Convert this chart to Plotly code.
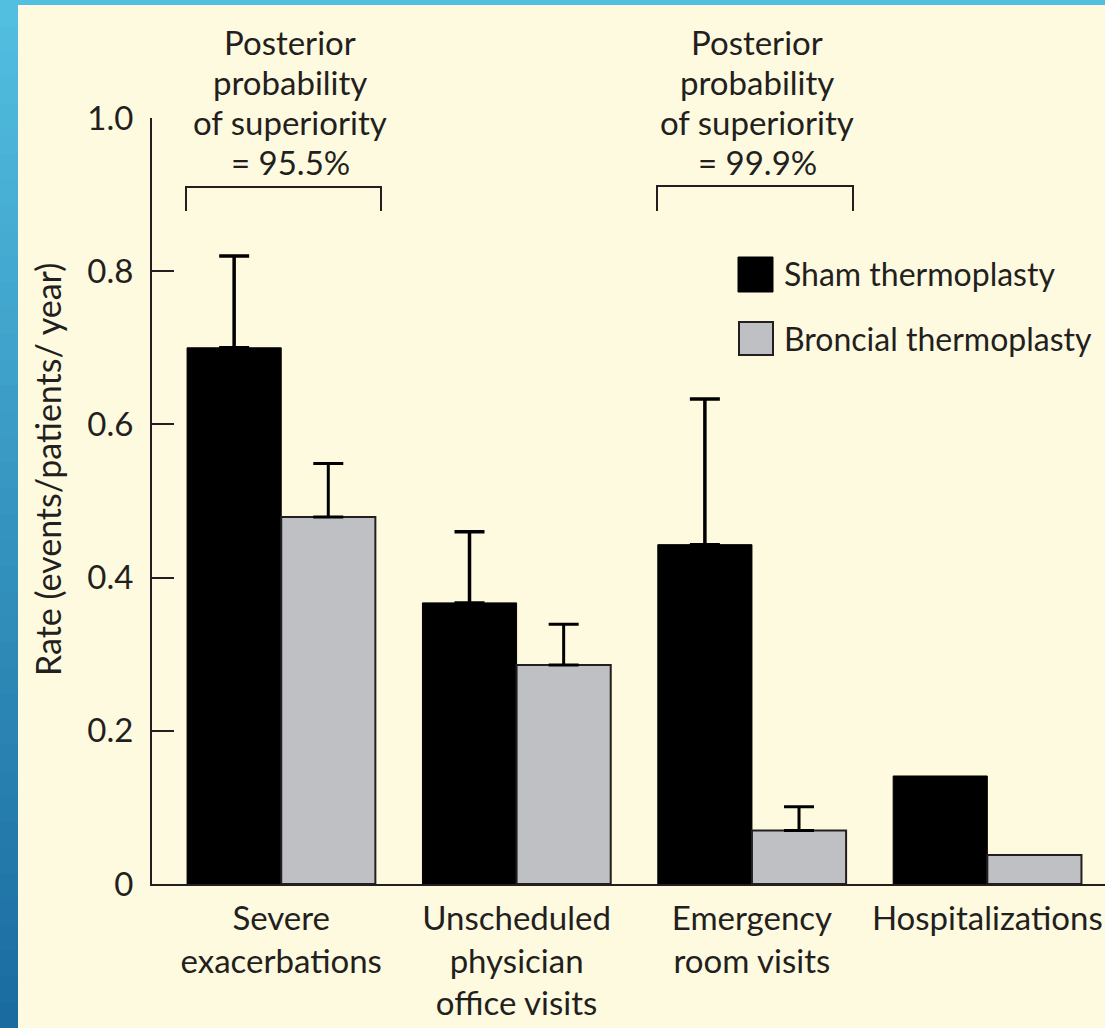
import plotly.graph_objects as go

categories = ["Severe<br>exacerbations", "Unscheduled<br>physician<br>office visits",
              "Emergency<br>room visits", "Hospitalizations"]
sham_values = [0.70, 0.367, 0.443, 0.141]
sham_err = [0.12, 0.093, 0.19]          # no error bar for Hospitalizations
bron_values = [0.479, 0.286, 0.070, 0.038]
bron_err = [0.07, 0.053, 0.031]         # no error bar for Hospitalizations
series_names = ["Sham thermoplasty", "Broncial thermoplasty"]
y_ticks = [0, 0.2, 0.4, 0.6, 0.8, 1.0]
y_ticklabels = ["0", "0.2", "0.4", "0.6", "0.8", "1.0"]
annot_lines = [["Posterior", "probability", "of superiority", "= 95.5%"],
               ["Posterior", "probability", "of superiority", "= 99.9%"]]

W, H = 1105, 1028
L, R, T, B = 152, 0, 118, 144
PW, PH = W - L - R, H - T - B
CREAM = "#FEFADF"
INK = "#231F20"
GRAY = "#BFC0C4"
FONT = "Lato"


def px(x):
    return (x - L) / PW


def py(y):
    return (H - B - y) / PH


fig = go.Figure()
fig.add_trace(go.Bar(
    x=categories, y=sham_values, name=series_names[0],
    marker=dict(color="black", line=dict(color="black", width=1)),
    error_y=dict(type="data", array=sham_err, arrayminus=[], symmetric=False,
                 color="black", thickness=3.5, width=15),
    showlegend=False,
))
fig.add_trace(go.Bar(
    x=categories, y=bron_values, name=series_names[1],
    marker=dict(color=GRAY, line=dict(color=INK, width=2)),
    error_y=dict(type="data", array=bron_err, arrayminus=[], symmetric=False,
                 color="black", thickness=3, width=15),
    showlegend=False,
))

shapes = []
# blue frame gradient (left strip and top strip)
c0 = (0x52, 0xBE, 0xE0)
c1 = (0x1A, 0x6C, 0xA0)
N = 40
for i in range(N):
    t = i / (N - 1)
    c = tuple(int(round(a + (b - a) * t)) for a, b in zip(c0, c1))
    y0 = i * H / N
    y1 = (i + 1) * H / N + 1
    shapes.append(dict(type="rect", xref="paper", yref="paper",
                       x0=px(0), x1=px(18), y0=py(y1), y1=py(y0),
                       fillcolor="rgb(%d,%d,%d)" % c, line=dict(width=0), layer="above"))
shapes.append(dict(type="rect", xref="paper", yref="paper",
                   x0=px(0), x1=px(W), y0=py(5), y1=py(0),
                   fillcolor="rgb(%d,%d,%d)" % c0, line=dict(width=0), layer="above"))

# brackets
for (xa, xb, yt) in [(186, 381, 187), (657, 853, 186)]:
    shapes.append(dict(type="path", xref="paper", yref="paper",
                       path="M %f %f L %f %f L %f %f L %f %f" % (
                           px(xa), py(211), px(xa), py(yt), px(xb), py(yt), px(xb), py(211)),
                       line=dict(color=INK, width=2)))

# legend swatches
shapes.append(dict(type="rect", xref="paper", yref="paper",
                   x0=px(738), x1=px(773), y0=py(292), y1=py(257),
                   fillcolor="black", line=dict(color="black", width=1)))
shapes.append(dict(type="rect", xref="paper", yref="paper",
                   x0=px(739), x1=px(773), y0=py(355), y1=py(322),
                   fillcolor=GRAY, line=dict(color=INK, width=2)))

annotations = []
line_centers = [41.5, 81.5, 121.5, 161.5]
for lines, cx in zip(annot_lines, [290, 757]):
    for txt, cy in zip(lines, line_centers):
        annotations.append(dict(text=txt, xref="paper", yref="paper", x=px(cx), y=py(cy),
                                xanchor="center", yanchor="middle", showarrow=False,
                                borderpad=0,
                                font=dict(family=FONT, size=33, color=INK)))
annotations.append(dict(text=series_names[0], xref="paper", yref="paper", x=px(782), y=py(273),
                        xanchor="left", yanchor="middle", showarrow=False,
                        font=dict(family=FONT, size=32, color=INK)))
annotations.append(dict(text=series_names[1], xref="paper", yref="paper", x=px(782), y=py(338),
                        xanchor="left", yanchor="middle", showarrow=False,
                        font=dict(family=FONT, size=32, color=INK)))
annotations.append(dict(text="Rate (events/patients/ year)", xref="paper", yref="paper",
                        x=px(47), y=py(470), xanchor="center", yanchor="middle", textangle=-90,
                        showarrow=False, font=dict(family=FONT, size=34, color=INK)))

fig.update_layout(
    width=W, height=H,
    margin=dict(l=L, r=R, t=T, b=B, pad=0),
    paper_bgcolor=CREAM, plot_bgcolor=CREAM,
    barmode="group", bargap=0.2, bargroupgap=0,
    font=dict(family=FONT, color=INK),
    shapes=shapes, annotations=annotations,
    xaxis=dict(range=[-0.549, 3.5], showline=True, linecolor=INK, linewidth=2,
               ticks="", showgrid=False, zeroline=False,
               tickfont=dict(family=FONT, size=33, color=INK), ticklabelstandoff=4),
    yaxis=dict(range=[0, 1.0], tickvals=y_ticks, ticktext=y_ticklabels,
               showline=True, linecolor=INK, linewidth=2, ticks="inside", ticklen=22,
               tickwidth=2, tickcolor=INK, showgrid=False, zeroline=False,
               tickfont=dict(family=FONT, size=33, color=INK), ticklabelstandoff=10),
)

fig.write_html("out.html", config={"displayModeBar": False},
               post_script="document.body.style.margin='0';")
